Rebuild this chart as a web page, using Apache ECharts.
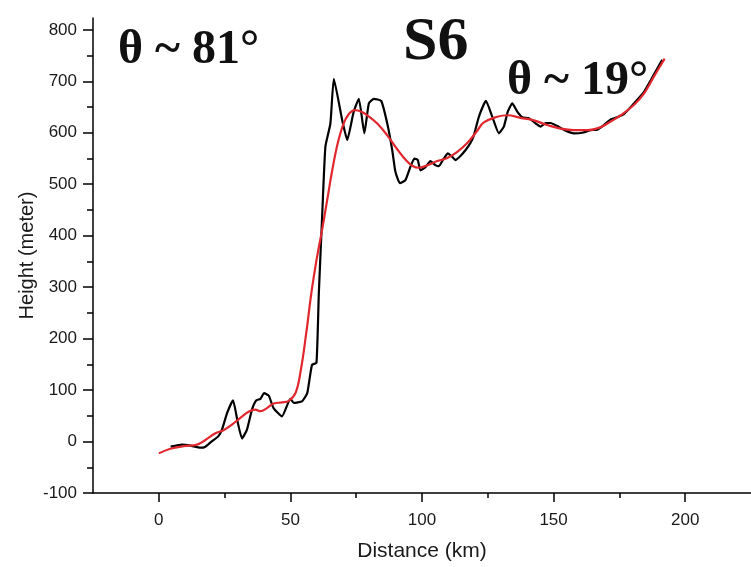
<!DOCTYPE html>
<html>
<head>
<meta charset="utf-8">
<script src="https://cdn.jsdelivr.net/npm/echarts@6/dist/echarts.min.js"></script>
<style>html,body{margin:0;padding:0;background:#fff;}#c{width:751px;height:567px;}</style>
</head>
<body>
<div id="c"></div>
<script>
// Distance (km), Height (m) for the black (raw) profile
const blackDist = [4.5,8.8,12,15.8,17.7,20,22.6,24,26,28.2,30,31.6,33.5,35.4,37,38.6,40,41.8,43.6,46.8,50,51.3,54.4,56.4,58.2,59.9,60.8,62,63.3,65.2,66.5,69.7,71.6,74,76,78.1,79.8,81.7,84.5,86.8,88.7,89.9,91.6,93.7,95.6,97.1,98.4,99.4,101.3,103.2,105.1,106.4,108.3,109.8,111.5,112.7,114.6,116.5,118.4,119.7,121.6,124.3,126.7,129.2,131.1,132.6,134.3,136.2,138.1,140.6,143.2,145,147,148.9,151.4,154.6,157.7,160.9,164.1,166.6,169.1,171.7,174,176.7,180.5,184.3,186.9,189.4,191.3];
const blackHeight = [-10,-6,-8,-12,-10,0,10,23,56,80,37,6,23,62,80,83,94,89,65,49,83,75,78,94,149,153,288,430,573,618,705,624,586,640,666,599,657,666,662,618,566,524,502,508,534,550,547,527,533,545,537,535,550,560,553,547,555,566,580,595,631,662,631,599,612,641,657,641,630,628,618,612,619,619,613,604,599,600,605,606,615,626,630,636,657,679,702,725,742];
// Smoothed (red) profile
const redDist = [0,4.4,9.4,14.5,17.7,21.5,24.6,27.8,31,34.1,36.7,38.6,41.1,43.7,46.8,49.4,52,54,56,58,60,62,64,66,68,70,72,74.5,77,79.2,83,86.8,90.6,93.7,96.3,98.8,102,105.8,109.6,113.4,117.2,121,123.5,128.6,132.4,137.5,142.5,147.6,152.7,157.7,162.8,167.9,171.7,175.5,180.5,184.3,188.1,192.2];
const redHeight = [-23,-14,-9,-6,3,16,22,33,46,58,62,59,65,74,76,79,95,140,210,290,355,410,470,530,580,615,635,644,641,634,618,595,568,548,536,532,537,545,551,563,580,604,620,631,634,629,624,615,608,605,605,611,622,634,654,676,709,744];
// Axis ticks
const xMajor = [0,50,100,150,200];
const xMinor = [25,75,125,175];
const yMajor = [-100,0,100,200,300,400,500,600,700,800];
const yMinor = [-50,50,150,250,350,450,550,650,750];
const annotations = ['θ ~ 81°','S6','θ ~ 19°'];

const zip = (a,b) => a.map((v,i)=>[v,b[i]]);
const chart = echarts.init(document.getElementById('c'));
const lab = {fontFamily:'Liberation Sans, Arial, sans-serif', fontSize:17, color:'#1a1a1a'};
const axLine = {show:true, onZero:false, lineStyle:{color:'#000', width:1.5}};
chart.setOption({
  animation:false,
  backgroundColor:'#fff',
  grid:{left:93, right:0, top:18, bottom:74, containLabel:false},
  xAxis:[
    {type:'value', min:-25, max:225, position:'bottom', axisLine:axLine,
     axisTick:{show:true, length:9, customValues:xMajor, lineStyle:{color:'#000', width:1.5}},
     axisLabel:Object.assign({margin:19, customValues:xMajor}, lab),
     splitLine:{show:false},
     name:'Distance (km)', nameLocation:'middle', nameGap:48, nameMoveOverlap:false,
     nameTextStyle:{fontFamily:'Liberation Sans, Arial, sans-serif', fontSize:21, color:'#1a1a1a'}},
    {type:'value', min:-25, max:225, position:'bottom', axisLine:{show:false, onZero:false},
     axisTick:{show:true, length:5, customValues:xMinor, lineStyle:{color:'#000', width:1.5}},
     axisLabel:{show:false}, splitLine:{show:false}}
  ],
  yAxis:[
    {type:'value', min:-100, max:823, position:'left', axisLine:axLine,
     axisTick:{show:true, length:10, customValues:yMajor, lineStyle:{color:'#000', width:1.5}},
     axisLabel:Object.assign({margin:16, customValues:yMajor}, lab),
     splitLine:{show:false},
     name:'Height (meter)', nameLocation:'middle', nameGap:56, nameMoveOverlap:false,
     nameTextStyle:{fontFamily:'Liberation Sans, Arial, sans-serif', fontSize:20, color:'#1a1a1a'}},
    {type:'value', min:-100, max:823, position:'left', axisLine:{show:false, onZero:false},
     axisTick:{show:true, length:6, customValues:yMinor, lineStyle:{color:'#000', width:1.5}},
     axisLabel:{show:false}, splitLine:{show:false}}
  ],
  series:[
    {type:'line', xAxisIndex:0, yAxisIndex:0, data:zip(blackDist,blackHeight), smooth:0.15,
     showSymbol:false, lineStyle:{color:'#000', width:2.2}, z:2},
    {type:'line', xAxisIndex:0, yAxisIndex:0, data:zip(redDist,redHeight), smooth:0.4,
     showSymbol:false, lineStyle:{color:'#e0282e', width:2.2}, z:3}
  ],
  graphic:[
    {type:'text', left:118, top:27, style:{text:annotations[0], font:'bold 48px "Liberation Serif", "Times New Roman", serif', fill:'#111'}},
    {type:'text', left:403, top:12, style:{text:annotations[1], font:'bold 62px "Liberation Serif", "Times New Roman", serif', fill:'#111'}},
    {type:'text', left:507, top:58, style:{text:annotations[2], font:'bold 48px "Liberation Serif", "Times New Roman", serif', fill:'#111'}}
  ]
});
</script>
</body>
</html>
